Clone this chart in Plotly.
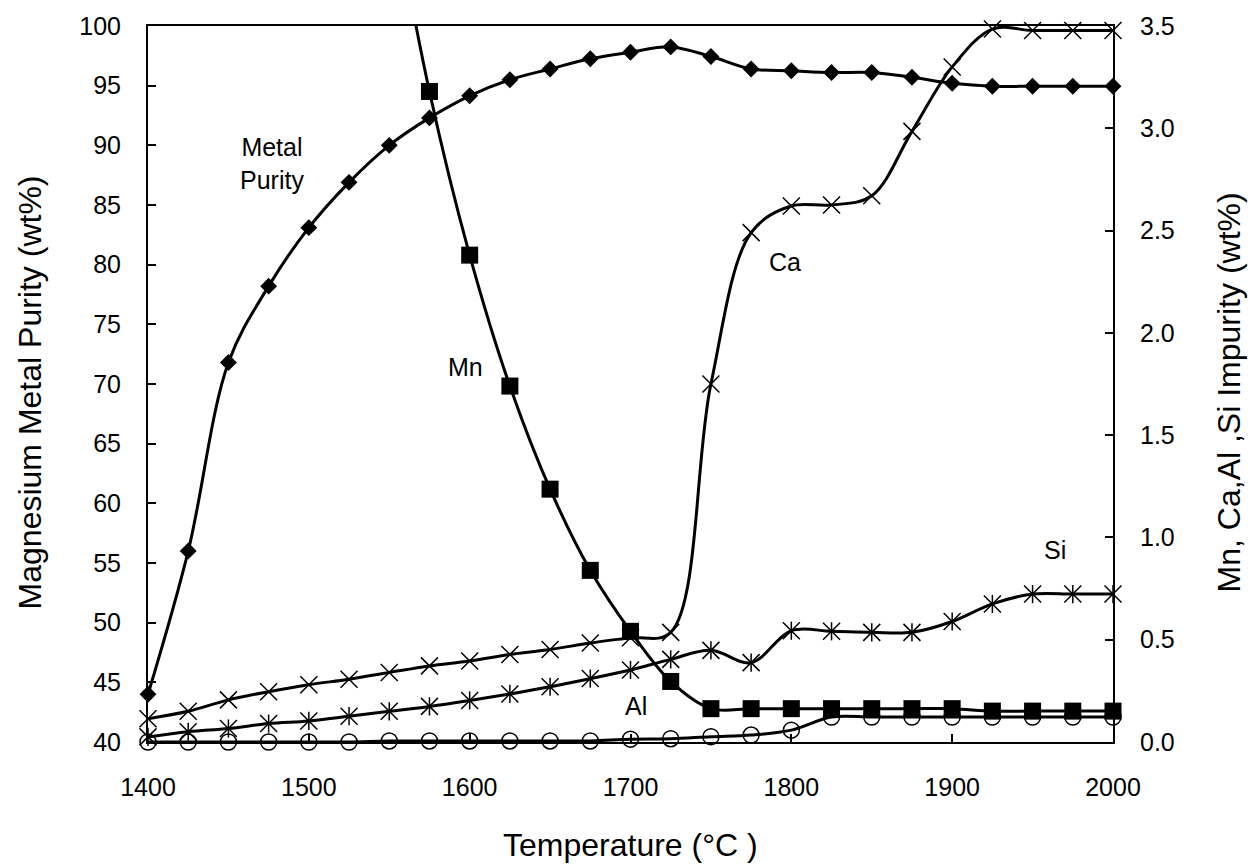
import plotly.graph_objects as go

temps = [1400, 1425, 1450, 1475, 1500, 1525, 1550, 1575, 1600, 1625, 1650, 1675, 1700,
         1725, 1750, 1775, 1800, 1825, 1850, 1875, 1900, 1925, 1950, 1975, 2000]

purity = [44.0, 56.0, 71.8, 78.2, 83.1, 86.9, 90.0, 92.3, 94.15, 95.5, 96.4, 97.25, 97.8,
          98.25, 97.45, 96.4, 96.25, 96.1, 96.1, 95.7, 95.2, 94.95, 94.95, 94.95, 94.95]

mn_temps = [1550, 1575, 1600, 1625, 1650, 1675, 1700, 1725, 1750, 1775, 1800, 1825,
            1850, 1875, 1900, 1925, 1950, 1975, 2000]
mn = [4.2, 3.18, 2.38, 1.74, 1.236, 0.839, 0.541, 0.296, 0.163, 0.163, 0.163, 0.163,
      0.163, 0.163, 0.163, 0.151, 0.151, 0.151, 0.151]

ca = [0.114, 0.15, 0.206, 0.246, 0.28, 0.307, 0.34, 0.372, 0.396, 0.428, 0.452, 0.484, 0.51,
      0.536, 1.75, 2.49, 2.62, 2.625, 2.67, 2.985, 3.30, 3.485, 3.478, 3.478, 3.478]

si = [0.025, 0.05, 0.066, 0.09, 0.103, 0.126, 0.15, 0.174, 0.203, 0.235, 0.27, 0.31, 0.352,
      0.404, 0.448, 0.388, 0.544, 0.541, 0.536, 0.536, 0.589, 0.675, 0.723, 0.723, 0.723]

al = [0.0, 0.0, 0.0, 0.0, 0.0, 0.0, 0.005, 0.005, 0.005, 0.005, 0.005, 0.005, 0.014,
      0.016, 0.026, 0.034, 0.058, 0.122, 0.122, 0.122, 0.122, 0.122, 0.122, 0.122, 0.122]

x_ticks = [1400, 1500, 1600, 1700, 1800, 1900, 2000]
left_ticks = [40, 45, 50, 55, 60, 65, 70, 75, 80, 85, 90, 95, 100]
right_ticks = [0.0, 0.5, 1.0, 1.5, 2.0, 2.5, 3.0, 3.5]

FONT = "Liberation Sans"
BLACK = "#000000"
LW = 3

fig = go.Figure()

# Metal purity (left axis)
fig.add_trace(go.Scatter(x=temps, y=purity, mode="lines+markers",
                         line=dict(color=BLACK, width=LW, shape="spline", smoothing=1.0),
                         marker=dict(symbol="diamond", size=13, color=BLACK),
                         cliponaxis=False, yaxis="y"))

# Al (circles)
fig.add_trace(go.Scatter(x=temps, y=al, mode="lines+markers",
                         line=dict(color=BLACK, width=LW, shape="spline", smoothing=1.0),
                         marker=dict(symbol="circle-open", size=16, color=BLACK,
                                     line=dict(width=1.5, color=BLACK)),
                         cliponaxis=False, yaxis="y2"))

# Si (stars)
fig.add_trace(go.Scatter(x=temps, y=si, mode="lines+markers",
                         line=dict(color=BLACK, width=LW, shape="spline", smoothing=1.0),
                         marker=dict(symbol="x-thin-open", size=17, color=BLACK,
                                     line=dict(width=1.5, color=BLACK)),
                         cliponaxis=False, yaxis="y2"))
fig.add_trace(go.Scatter(x=temps, y=si, mode="markers",
                         marker=dict(symbol="line-ns-open", size=13, color=BLACK,
                                     line=dict(width=1.5, color=BLACK)),
                         cliponaxis=False, yaxis="y2"))

# Ca (x)
fig.add_trace(go.Scatter(x=temps, y=ca, mode="lines+markers",
                         line=dict(color=BLACK, width=LW, shape="spline", smoothing=1.0),
                         marker=dict(symbol="x-thin-open", size=17, color=BLACK,
                                     line=dict(width=1.5, color=BLACK)),
                         cliponaxis=False, yaxis="y2"))

# Mn (squares): line includes the off-scale point, markers only the visible ones
fig.add_trace(go.Scatter(x=mn_temps, y=mn, mode="lines",
                         line=dict(color=BLACK, width=LW, shape="spline", smoothing=1.0),
                         yaxis="y2"))
fig.add_trace(go.Scatter(x=mn_temps[1:], y=mn[1:], mode="markers",
                         marker=dict(symbol="square", size=17, color=BLACK),
                         cliponaxis=False, yaxis="y2"))

tickfont = dict(family=FONT, size=25, color=BLACK)

fig.update_layout(
    width=1252, height=866,
    margin=dict(l=148, r=139, t=17, b=124),
    paper_bgcolor="white", plot_bgcolor="white",
    showlegend=False,
    font=dict(family=FONT, color=BLACK),
    xaxis=dict(range=[1400, 2000], tickvals=x_ticks, ticktext=[str(v) for v in x_ticks],
               ticks="inside", ticklen=8, tickwidth=1.5, tickcolor=BLACK,
               showline=True, linewidth=2, linecolor=BLACK, mirror=True,
               showgrid=False, zeroline=False, tickfont=tickfont,
               ticklabelstandoff=22),
    yaxis=dict(range=[40, 100], tickvals=left_ticks, ticktext=[str(v) for v in left_ticks],
               ticks="inside", ticklen=8, tickwidth=1.5, tickcolor=BLACK,
               showline=True, linewidth=2, linecolor=BLACK,
               showgrid=False, zeroline=False, tickfont=tickfont,
               ticklabelstandoff=20),
    yaxis2=dict(range=[0, 3.5], tickvals=right_ticks,
                ticktext=["%.1f" % v for v in right_ticks],
                overlaying="y", side="right",
                ticks="inside", ticklen=8, tickwidth=1.5, tickcolor=BLACK,
                showline=True, linewidth=2, linecolor=BLACK,
                showgrid=False, zeroline=False, tickfont=tickfont,
                ticklabelstandoff=20),
)

def px_x(px):
    return (px - 148) / 965.0

def px_y(py):
    return (742 - py) / 725.0

title_font = dict(family=FONT, size=32, color=BLACK)
label_font = dict(family=FONT, size=25, color=BLACK)

annotations = [
    dict(text="Temperature (°C )", x=px_x(630), y=px_y(846), font=title_font, textangle=0),
    dict(text="Magnesium Metal Purity (wt%)", x=px_x(30), y=px_y(388), font=title_font, textangle=-90),
    dict(text="Mn, Ca,Al ,Si Impurity (wt%)", x=px_x(1229), y=px_y(388), font=title_font, textangle=-90),
    dict(text="Metal<br>Purity", x=px_x(272), y=px_y(156), font=label_font),
    dict(text="Mn", x=px_x(465), y=px_y(362), font=label_font),
    dict(text="Ca", x=px_x(785), y=px_y(256), font=label_font),
    dict(text="Si", x=px_x(1055), y=px_y(548), font=label_font),
    dict(text="Al", x=px_x(636), y=px_y(706), font=label_font),
]
for a in annotations:
    fig.add_annotation(xref="paper", yref="paper", showarrow=False,
                       xanchor="center", yanchor="middle", **a)

fig.write_html("out.html")
